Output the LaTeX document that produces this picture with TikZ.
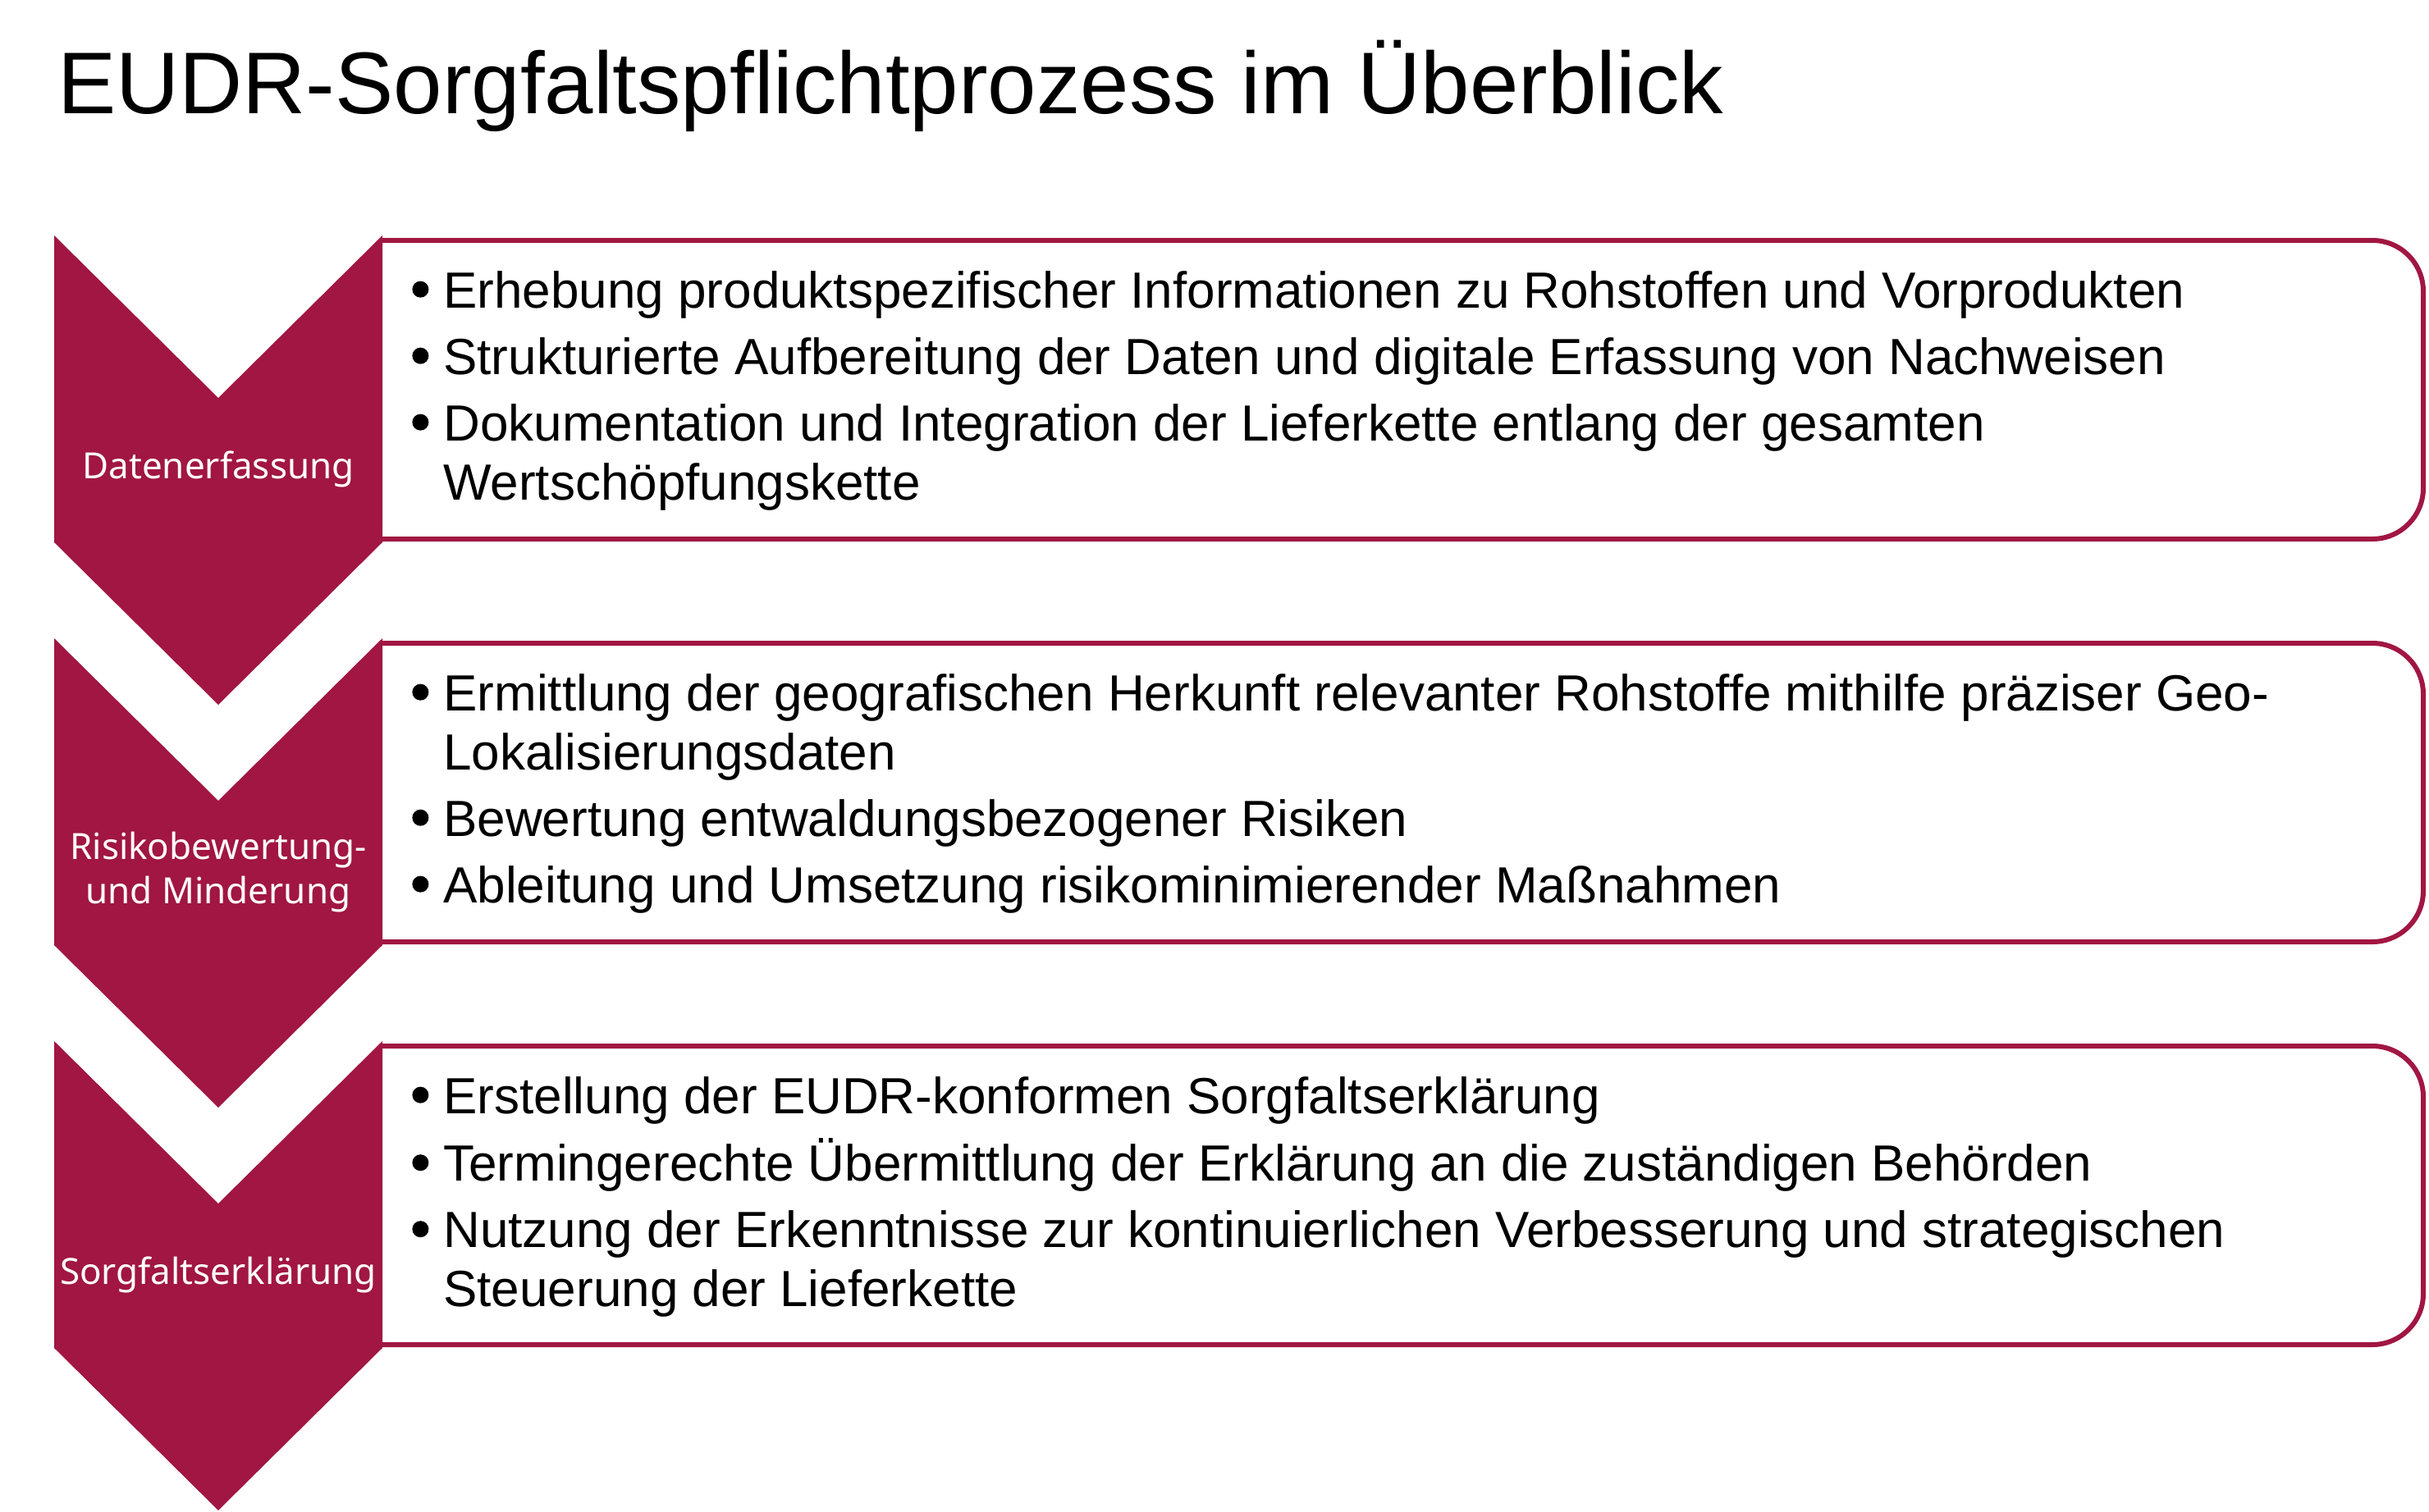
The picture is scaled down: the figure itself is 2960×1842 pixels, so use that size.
\documentclass[tikz,border=0pt]{standalone}
\usepackage{fontspec}
\setmainfont{Liberation Sans}
\newfontfamily\labelfont{Noto Sans}
\definecolor{eudrred}{RGB}{161,22,66}
\newcommand\bul{\tikz[baseline={(0,-0.36em)}]\fill (0,0) circle (5pt);}
\begin{document}
\begin{tikzpicture}[x=0.5pt,y=-0.5pt,
        chevron/.style={fill=eudrred},
        panel/.style={draw=eudrred,line width=3pt,rounded corners=31pt},
        steplabel/.style={text=white,font=\labelfont\fontsize{22}{27}\selectfont,align=center,inner sep=0pt},
        itemlist/.style={anchor=base west,inner sep=0pt,font=\fontsize{31}{36}\selectfont}]
    \useasboundingbox (0,0) rectangle (2960,1842);
    \node[anchor=base west,inner sep=0pt,font=\fontsize{53.4}{60}\selectfont] (T) at (70,138) {EUDR-Sorgfaltspflichtprozess im Überblick};
    \foreach \t in {287,778,1269}{
        \draw[panel] (466,\t+6) -| (2953,\t+370) -- (466,\t+370);
        \fill[chevron] (66,\t) -- (266,\t+198) -- (466,\t) -- (466,\t+374) -- (266,\t+572) -- (66,\t+374) -- cycle;
    }
    \node[steplabel] (D) at (266,572) {Datenerfassung};
    \node[steplabel] (R) at (266,1063) {Risikobewertung-\\und Minderung};
    \node[steplabel] (S) at (266,1554) {Sorgfaltserklärung};
    \node[itemlist] (D1) at (502,375) {\begin{tabular}[t]{@{}p{19pt}@{}l@{}}
        \bul & Erhebung produktspezifischer Informationen zu Rohstoffen und Vorprodukten\\[4.5pt]
        \bul & Strukturierte Aufbereitung der Daten und digitale Erfassung von Nachweisen\\[4.5pt]
        \bul & Dokumentation und Integration der Lieferkette entlang der gesamten\\
        & Wertschöpfungskette
    \end{tabular}};
    \node[itemlist] (R1) at (502,866) {\begin{tabular}[t]{@{}p{19pt}@{}l@{}}
        \bul & Ermittlung der geografischen Herkunft relevanter Rohstoffe mithilfe präziser Geo-\\
        & Lokalisierungsdaten\\[4.5pt]
        \bul & Bewertung entwaldungsbezogener Risiken\\[4.5pt]
        \bul & Ableitung und Umsetzung risikominimierender Maßnahmen
    \end{tabular}};
    \node[itemlist] (S1) at (502,1357) {\begin{tabular}[t]{@{}p{19pt}@{}l@{}}
        \bul & Erstellung der EUDR-konformen Sorgfaltserklärung\\[4.5pt]
        \bul & Termingerechte Übermittlung der Erklärung an die zuständigen Behörden\\[4.5pt]
        \bul & Nutzung der Erkenntnisse zur kontinuierlichen Verbesserung und strategischen\\
        & Steuerung der Lieferkette
    \end{tabular}};
\end{tikzpicture}
\end{document}
